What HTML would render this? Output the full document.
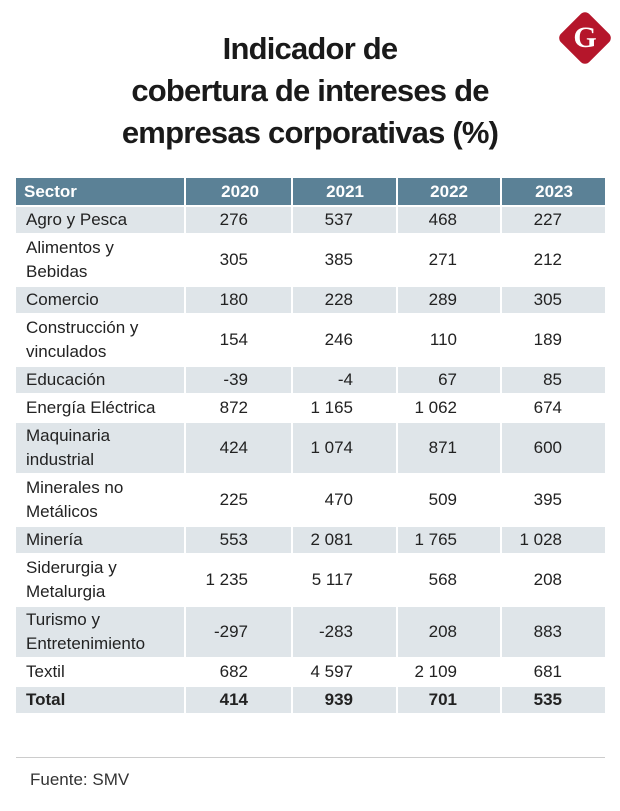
<!DOCTYPE html>
<html><head><meta charset="utf-8"><style>
body{margin:0;width:620px;height:811px;background:#fff;font-family:"Liberation Sans",sans-serif;position:relative;overflow:hidden;color:#222}
#title{position:absolute;left:0;width:620px;top:28px;text-align:center;font-weight:bold;font-size:31px;line-height:42px;letter-spacing:-0.8px;color:#1a1a1a}
#logo{position:absolute;left:565px;top:18px;width:40px;height:40px;background:#b5162b;transform:rotate(45deg);border-radius:6px}
#logoG{position:absolute;left:565px;top:18px;width:40px;height:40px;line-height:40px;text-align:center;color:#fff;font-weight:bold;font-family:"Liberation Serif",serif;font-size:30px}
table{position:absolute;left:14px;top:176px;border-collapse:separate;border-spacing:2px;font-size:17px}
td,th{padding:0}
th{background:#5b8196;color:#fff;height:27px;font-size:17px;text-align:right;padding-right:32px}
th.s{text-align:left;padding-left:8px}
td{text-align:right;padding-right:43px;height:26px}
td.s{text-align:left;padding-left:10px;padding-right:0;line-height:24px}
tr.g td{background:#dfe5e9}
tr.t td{height:50px}
tr.b td{font-weight:bold}
#rule{position:absolute;left:16px;top:757px;width:589px;height:1px;background:#ccc}
#src{position:absolute;left:30px;top:770px;font-size:17px;color:#333}
</style></head><body>
<div id="title">Indicador de<br>cobertura de intereses de<br>empresas corporativas (%)</div>
<div id="logo"></div>
<div id="logoG">G</div>
<table>
<colgroup><col style="width:168px"><col style="width:105px"><col style="width:103px"><col style="width:102px"><col style="width:103px"></colgroup>
<tr><th class="s">Sector</th><th>2020</th><th>2021</th><th>2022</th><th>2023</th></tr>
<tr class="g"><td class="s">Agro y Pesca</td><td>276</td><td>537</td><td>468</td><td>227</td></tr>
<tr class="t"><td class="s">Alimentos y<br>Bebidas</td><td>305</td><td>385</td><td>271</td><td>212</td></tr>
<tr class="g"><td class="s">Comercio</td><td>180</td><td>228</td><td>289</td><td>305</td></tr>
<tr class="t"><td class="s">Construcción y<br>vinculados</td><td>154</td><td>246</td><td>110</td><td>189</td></tr>
<tr class="g"><td class="s">Educación</td><td>-39</td><td>-4</td><td>67</td><td>85</td></tr>
<tr><td class="s">Energía Eléctrica</td><td>872</td><td>1 165</td><td>1 062</td><td>674</td></tr>
<tr class="g t"><td class="s">Maquinaria<br>industrial</td><td>424</td><td>1 074</td><td>871</td><td>600</td></tr>
<tr class="t"><td class="s">Minerales no<br>Metálicos</td><td>225</td><td>470</td><td>509</td><td>395</td></tr>
<tr class="g"><td class="s">Minería</td><td>553</td><td>2 081</td><td>1 765</td><td>1 028</td></tr>
<tr class="t"><td class="s">Siderurgia y<br>Metalurgia</td><td>1 235</td><td>5 117</td><td>568</td><td>208</td></tr>
<tr class="g t"><td class="s">Turismo y<br>Entretenimiento</td><td>-297</td><td>-283</td><td>208</td><td>883</td></tr>
<tr><td class="s">Textil</td><td>682</td><td>4 597</td><td>2 109</td><td>681</td></tr>
<tr class="g b"><td class="s">Total</td><td>414</td><td>939</td><td>701</td><td>535</td></tr>
</table>
<div id="rule"></div>
<div id="src">Fuente: SMV</div>
</body></html>
